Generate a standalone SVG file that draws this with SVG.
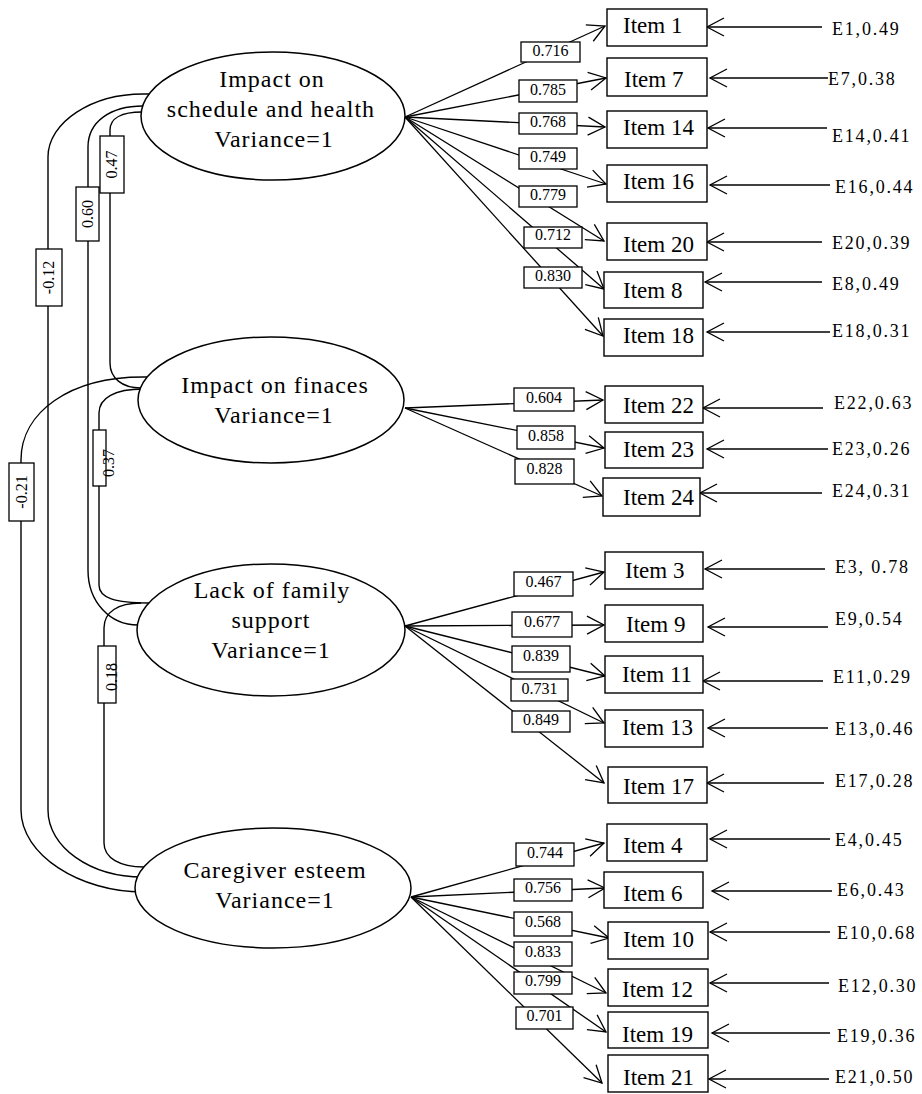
<svg xmlns="http://www.w3.org/2000/svg" width="922" height="1094" viewBox="0 0 922 1094">
<style>
.bg{fill:#fff}
.ell{fill:#fff;stroke:#000;stroke-width:1.5}
.box{fill:#fff;stroke:#000;stroke-width:1.4}
.lbl{fill:#fff;stroke:#000;stroke-width:1.3}
.ln{fill:none;stroke:#000;stroke-width:1.3}
.cv{fill:none;stroke:#000;stroke-width:1.4}
.et{font-family:"Liberation Serif",serif;font-size:24px;letter-spacing:1px;text-anchor:middle;fill:#000}
.it{font-family:"Liberation Serif",serif;font-size:23px;fill:#000}
.er{font-family:"Liberation Serif",serif;font-size:18px;letter-spacing:1.8px;fill:#000}
.lt{font-family:"Liberation Serif",serif;font-size:16px;text-anchor:middle;fill:#000}
</style>
<defs>
<marker id="arr" markerUnits="userSpaceOnUse" markerWidth="22" markerHeight="22" refX="17" refY="9" orient="auto" overflow="visible">
<path d="M0,0 L17,9 L0,18" fill="none" stroke="#000" stroke-width="1.3"/>
</marker>
</defs>
<rect class="bg" x="0" y="0" width="922" height="1094"/>

<g id="connectors">
<!-- covariance curves -->
<path class="cv" d="M149,94 L143,94 C92,94 48,122 48,157 L48,810 C48,847 90,877 143,877"/>
<path class="cv" d="M147,377 L143,377 C70,377 21,412 21,460 L21,810 C21,855 80,892 143,892"/>
<path class="cv" d="M143,106 C110,106 88,122 88,147 L88,570 C88,602 110,625 138,625"/>
<path class="cv" d="M142,112 C122,112 110,118 110,130 L110,363 C110,378 122,388 141,388"/>
<path class="cv" d="M143,389 C115,389 99,398 99,413 L99,585 C99,598 115,603 149,603"/>
<path class="cv" d="M141,603 C118,603 104,612 104,628 L104,843 C104,858 120,867 144,867"/>
<!-- loadings: factor 1 -->
<line class="ln" x1="405" y1="117" x2="605" y2="26" marker-end="url(#arr)"/>
<line class="ln" x1="405" y1="117" x2="606" y2="78" marker-end="url(#arr)"/>
<line class="ln" x1="405" y1="117" x2="605" y2="127" marker-end="url(#arr)"/>
<line class="ln" x1="405" y1="117" x2="606" y2="184" marker-end="url(#arr)"/>
<line class="ln" x1="405" y1="117" x2="604" y2="241" marker-end="url(#arr)"/>
<line class="ln" x1="405" y1="117" x2="604" y2="289" marker-end="url(#arr)"/>
<line class="ln" x1="405" y1="117" x2="603" y2="336" marker-end="url(#arr)"/>
<!-- factor 2 -->
<line class="ln" x1="405" y1="408" x2="603" y2="400" marker-end="url(#arr)"/>
<line class="ln" x1="405" y1="408" x2="604" y2="448" marker-end="url(#arr)"/>
<line class="ln" x1="405" y1="408" x2="602" y2="496" marker-end="url(#arr)"/>
<!-- factor 3 -->
<line class="ln" x1="405" y1="626" x2="604" y2="572" marker-end="url(#arr)"/>
<line class="ln" x1="405" y1="626" x2="604" y2="625" marker-end="url(#arr)"/>
<line class="ln" x1="405" y1="626" x2="605" y2="676" marker-end="url(#arr)"/>
<line class="ln" x1="405" y1="626" x2="604" y2="723" marker-end="url(#arr)"/>
<line class="ln" x1="405" y1="626" x2="604" y2="783" marker-end="url(#arr)"/>
<!-- factor 4 -->
<line class="ln" x1="411" y1="897" x2="604" y2="843" marker-end="url(#arr)"/>
<line class="ln" x1="411" y1="897" x2="605" y2="888" marker-end="url(#arr)"/>
<line class="ln" x1="411" y1="897" x2="609" y2="938" marker-end="url(#arr)"/>
<line class="ln" x1="411" y1="897" x2="606" y2="993" marker-end="url(#arr)"/>
<line class="ln" x1="411" y1="897" x2="606" y2="1032" marker-end="url(#arr)"/>
<line class="ln" x1="411" y1="897" x2="602" y2="1083" marker-end="url(#arr)"/>
<!-- error arrows -->
<line class="ln" x1="822" y1="27" x2="707" y2="27" marker-end="url(#arr)"/>
<line class="ln" x1="828" y1="78" x2="710" y2="78" marker-end="url(#arr)"/>
<line class="ln" x1="827" y1="128" x2="708" y2="128" marker-end="url(#arr)"/>
<line class="ln" x1="830" y1="185" x2="710" y2="185" marker-end="url(#arr)"/>
<line class="ln" x1="822" y1="242" x2="707" y2="242" marker-end="url(#arr)"/>
<line class="ln" x1="822" y1="282" x2="705" y2="282" marker-end="url(#arr)"/>
<line class="ln" x1="830" y1="332" x2="707" y2="332" marker-end="url(#arr)"/>
<line class="ln" x1="823" y1="408" x2="703" y2="408" marker-end="url(#arr)"/>
<line class="ln" x1="828" y1="449" x2="707" y2="449" marker-end="url(#arr)"/>
<line class="ln" x1="822" y1="493" x2="700" y2="493" marker-end="url(#arr)"/>
<line class="ln" x1="825" y1="569" x2="705" y2="569" marker-end="url(#arr)"/>
<line class="ln" x1="828" y1="627" x2="708" y2="627" marker-end="url(#arr)"/>
<line class="ln" x1="823" y1="681" x2="703" y2="681" marker-end="url(#arr)"/>
<line class="ln" x1="828" y1="728" x2="708" y2="728" marker-end="url(#arr)"/>
<line class="ln" x1="824" y1="783" x2="707" y2="783" marker-end="url(#arr)"/>
<line class="ln" x1="830" y1="839" x2="710" y2="839" marker-end="url(#arr)"/>
<line class="ln" x1="832" y1="891" x2="712" y2="891" marker-end="url(#arr)"/>
<line class="ln" x1="830" y1="932" x2="710" y2="932" marker-end="url(#arr)"/>
<line class="ln" x1="829" y1="983" x2="710" y2="983" marker-end="url(#arr)"/>
<line class="ln" x1="830" y1="1033" x2="712" y2="1033" marker-end="url(#arr)"/>
<line class="ln" x1="829" y1="1079" x2="709" y2="1079" marker-end="url(#arr)"/>

<!-- covariance labels -->
<g id="cov-labels">
<rect class="lbl" x="100" y="136" width="24" height="57"/>
<text class="lt" x="112" y="169.5" transform="rotate(-90 112 164.5)">0.47</text>
<rect class="lbl" x="76" y="187" width="23" height="54"/>
<text class="lt" x="87.5" y="219" transform="rotate(-90 87.5 214)">0.60</text>
<rect class="lbl" x="36" y="249" width="26" height="57"/>
<text class="lt" x="49" y="282.5" transform="rotate(-90 49 277.5)">-0.12</text>
<rect class="lbl" x="9" y="463" width="25" height="58"/>
<text class="lt" x="21.5" y="497" transform="rotate(-90 21.5 492)">-0.21</text>
<rect class="lbl" x="93" y="430" width="13" height="56"/>
<text class="lt" x="109" y="468" transform="rotate(-90 109 463)">0.37</text>
<rect class="lbl" x="98" y="646" width="18" height="57"/>
<text class="lt" x="112" y="682" transform="rotate(-90 112 677)">0.18</text>
</g>

<!-- loading labels -->
<g id="loading-labels">
<rect class="lbl" x="521" y="42" width="59" height="20"/><text class="lt" x="550.5" y="56">0.716</text>
<rect class="lbl" x="519" y="80" width="58" height="22"/><text class="lt" x="548" y="95">0.785</text>
<rect class="lbl" x="519" y="113" width="58" height="21"/><text class="lt" x="548" y="127">0.768</text>
<rect class="lbl" x="519" y="148" width="58" height="21"/><text class="lt" x="548" y="162">0.749</text>
<rect class="lbl" x="519" y="186" width="58" height="21"/><text class="lt" x="548" y="200">0.779</text>
<rect class="lbl" x="524" y="227" width="58" height="21"/><text class="lt" x="553" y="240">0.712</text>
<rect class="lbl" x="524" y="267" width="58" height="21"/><text class="lt" x="553" y="281">0.830</text>

<rect class="lbl" x="514" y="388" width="60" height="23"/><text class="lt" x="544" y="403">0.604</text>
<rect class="lbl" x="517" y="426" width="58" height="23"/><text class="lt" x="546" y="441">0.858</text>
<rect class="lbl" x="515" y="459" width="59" height="25"/><text class="lt" x="544.5" y="474">0.828</text>

<rect class="lbl" x="514" y="572" width="59" height="24"/><text class="lt" x="543.5" y="587">0.467</text>
<rect class="lbl" x="512" y="612" width="60" height="25"/><text class="lt" x="542" y="627">0.677</text>
<rect class="lbl" x="512" y="646" width="58" height="26"/><text class="lt" x="541" y="661">0.839</text>
<rect class="lbl" x="511" y="679" width="57" height="22"/><text class="lt" x="539.5" y="694">0.731</text>
<rect class="lbl" x="512" y="711" width="58" height="21"/><text class="lt" x="541" y="725">0.849</text>

<rect class="lbl" x="516" y="843" width="58" height="23"/><text class="lt" x="545" y="858">0.744</text>
<rect class="lbl" x="514" y="879" width="58" height="22"/><text class="lt" x="543" y="893">0.756</text>
<rect class="lbl" x="514" y="912" width="58" height="24"/><text class="lt" x="543" y="927">0.568</text>
<rect class="lbl" x="514" y="942" width="58" height="24"/><text class="lt" x="543" y="957">0.833</text>
<rect class="lbl" x="514" y="972" width="58" height="22"/><text class="lt" x="543" y="986">0.799</text>
<rect class="lbl" x="516" y="1007" width="57" height="22"/><text class="lt" x="544.5" y="1021">0.701</text>
</g>
</g>

<!-- factor nodes -->
<g id="factor1">
<ellipse class="ell" cx="273" cy="116" rx="132" ry="64"/>
<text class="et" x="272" y="87">Impact on</text>
<text class="et" x="271" y="117">schedule and health</text>
<text class="et" x="274" y="147">Variance=1</text>
</g>
<g id="factor2">
<ellipse class="ell" cx="271" cy="400" rx="133" ry="63"/>
<text class="et" x="275" y="393">Impact on finaces</text>
<text class="et" x="274" y="423">Variance=1</text>
</g>
<g id="factor3">
<ellipse class="ell" cx="271" cy="630" rx="134" ry="66"/>
<text class="et" x="272" y="598">Lack of family</text>
<text class="et" x="271" y="628">support</text>
<text class="et" x="271" y="658">Variance=1</text>
</g>
<g id="factor4">
<ellipse class="ell" cx="273" cy="888" rx="138" ry="60"/>
<text class="et" x="275" y="878">Caregiver esteem</text>
<text class="et" x="275" y="908">Variance=1</text>
</g>

<!-- item nodes -->
<g id="item1"><rect class="box" x="607" y="9" width="100" height="37"/><text class="it" x="623" y="33">Item 1</text></g>
<g id="item7"><rect class="box" x="607" y="58" width="100" height="38"/><text class="it" x="624" y="87">Item 7</text></g>
<g id="item14"><rect class="box" x="607" y="111" width="100" height="37"/><text class="it" x="623" y="135">Item 14</text></g>
<g id="item16"><rect class="box" x="607" y="165" width="100" height="37"/><text class="it" x="623" y="189">Item 16</text></g>
<g id="item20"><rect class="box" x="607" y="223" width="100" height="37"/><text class="it" x="623" y="252">Item 20</text></g>
<g id="item8"><rect class="box" x="604" y="272" width="99" height="36"/><text class="it" x="623" y="298">Item 8</text></g>
<g id="item18"><rect class="box" x="604" y="319" width="99" height="37"/><text class="it" x="623" y="343">Item 18</text></g>
<g id="item22"><rect class="box" x="605" y="386" width="98" height="37"/><text class="it" x="623" y="413">Item 22</text></g>
<g id="item23"><rect class="box" x="605" y="432" width="98" height="36"/><text class="it" x="623" y="457">Item 23</text></g>
<g id="item24"><rect class="box" x="603" y="478" width="97" height="38"/><text class="it" x="623" y="505">Item 24</text></g>
<g id="item3"><rect class="box" x="605" y="552" width="98" height="37"/><text class="it" x="625" y="578">Item 3</text></g>
<g id="item9"><rect class="box" x="605" y="605" width="98" height="37"/><text class="it" x="626" y="632">Item 9</text></g>
<g id="item11"><rect class="box" x="605" y="656" width="98" height="37"/><text class="it" x="622" y="682">Item 11</text></g>
<g id="item13"><rect class="box" x="605" y="710" width="98" height="37"/><text class="it" x="622" y="735">Item 13</text></g>
<g id="item17"><rect class="box" x="608" y="767" width="99" height="36"/><text class="it" x="623" y="794">Item 17</text></g>
<g id="item4"><rect class="box" x="607" y="824" width="100" height="37"/><text class="it" x="623" y="853">Item 4</text></g>
<g id="item6"><rect class="box" x="604" y="872" width="99" height="36"/><text class="it" x="623" y="901">Item 6</text></g>
<g id="item10"><rect class="box" x="608" y="922" width="100" height="37"/><text class="it" x="623" y="947">Item 10</text></g>
<g id="item12"><rect class="box" x="608" y="969" width="100" height="37"/><text class="it" x="622" y="997">Item 12</text></g>
<g id="item19"><rect class="box" x="608" y="1012" width="100" height="36"/><text class="it" x="622" y="1042">Item 19</text></g>
<g id="item21"><rect class="box" x="608" y="1055" width="100" height="37"/><text class="it" x="623" y="1085">Item 21</text></g>

<!-- error terms -->
<g id="errors">
<text class="er" x="832" y="35">E1,0.49</text>
<text class="er" x="828" y="85">E7,0.38</text>
<text class="er" x="832" y="142">E14,0.41</text>
<text class="er" x="835" y="193">E16,0.44</text>
<text class="er" x="832" y="249">E20,0.39</text>
<text class="er" x="832" y="290">E8,0.49</text>
<text class="er" x="832" y="337">E18,0.31</text>
<text class="er" x="834" y="409">E22,0.63</text>
<text class="er" x="832" y="455">E23,0.26</text>
<text class="er" x="832" y="497">E24,0.31</text>
<text class="er" x="835" y="573">E3, 0.78</text>
<text class="er" x="835" y="625">E9,0.54</text>
<text class="er" x="833" y="683">E11,0.29</text>
<text class="er" x="835" y="735">E13,0.46</text>
<text class="er" x="835" y="787">E17,0.28</text>
<text class="er" x="835" y="846">E4,0.45</text>
<text class="er" x="837" y="896">E6,0.43</text>
<text class="er" x="837" y="939">E10,0.68</text>
<text class="er" x="838" y="992">E12,0.30</text>
<text class="er" x="837" y="1042">E19,0.36</text>
<text class="er" x="835" y="1083">E21,0.50</text>
</g>
</svg>
